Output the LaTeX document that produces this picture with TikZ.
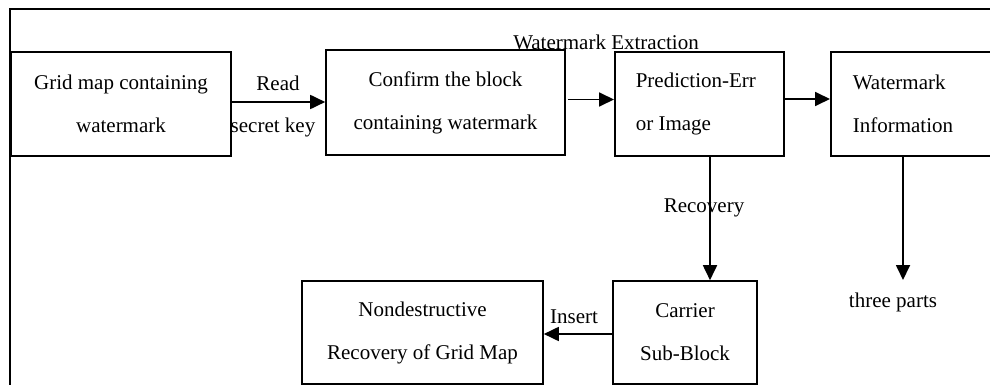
\documentclass[tikz,border=0pt]{standalone}
\usepackage{fontspec}
\setmainfont{Liberation Serif}
\usetikzlibrary{arrows.meta}
\begin{document}
\begin{tikzpicture}[x=0.5pt,y=-0.5pt,
  box/.style={draw,line width=0.8pt,inner sep=0pt,minimum height=52pt,align=center,
    font=\fontsize{10.5}{21.5}\selectfont},
  lbl/.style={inner sep=0pt,font=\fontsize{10.5}{12}\selectfont},
  arr/.style={line width=0.9pt,-{Triangle[length=7.5pt,width=7pt]}}]
\clip (0,0) rectangle (990,385);
\coordinate (ftl) at (10,9);
\coordinate (ftr) at (995,9);
\coordinate (fbl) at (10,390);
\draw[line width=1pt] (ftr) -- (ftl) -- (fbl);
\node[box,minimum width=110pt] (b1) at (121,104) {Grid map containing\\watermark};
\node[box,minimum width=119.5pt,minimum height=52.5pt] (b2) at (445.5,102.5) {Confirm the block\\containing watermark};
\node[box,anchor=west,inner xsep=10.5pt,text width=63.5pt,align=flush left] (b3) at (614,104) {Prediction-Err\\or Image};
\node[box,anchor=west,inner xsep=11pt,text width=90pt,align=flush left] (b4) at (830,104) {Watermark\\Information};
\node[box,minimum width=72pt,minimum height=51.5pt] (b5) at (685,332.5) {Carrier\\Sub-Block};
\node[box,minimum width=120.5pt,minimum height=51.5pt] (b6) at (422.5,332.5) {Nondestructive\\Recovery of Grid Map};
\node[lbl] (title) at (606,42) {Watermark Extraction};
\node[lbl] (read) at (278,83) {Read};
\node[lbl] (key) at (273,127) {secret key};
\node[lbl] (rec) at (704,208) {Recovery};
\node[lbl] (ins) at (574,317) {Insert};
\node[lbl] (parts) at (893,302) {three parts};
\coordinate (pt) at (903,280);
\draw[arr] ([yshift=1pt]b1.east) -- ([yshift=1pt]b1.east -| b2.west);
\draw[arr] ([xshift=1pt,yshift=1.5pt]b2.east) -- ([yshift=1.5pt]b2.east -| b3.west);
\draw[arr] ([yshift=2.5pt]b3.east) -- ([yshift=2.5pt]b3.east -| b4.west);
\draw[arr] (b3.south -| 710,0) -- (b5.north -| 710,0);
\draw[arr] (b4.south -| pt) -- (pt);
\draw[arr] ([yshift=-0.75pt]b5.west) -- ([yshift=-0.75pt]b5.west -| b6.east);
\end{tikzpicture}
\end{document}
